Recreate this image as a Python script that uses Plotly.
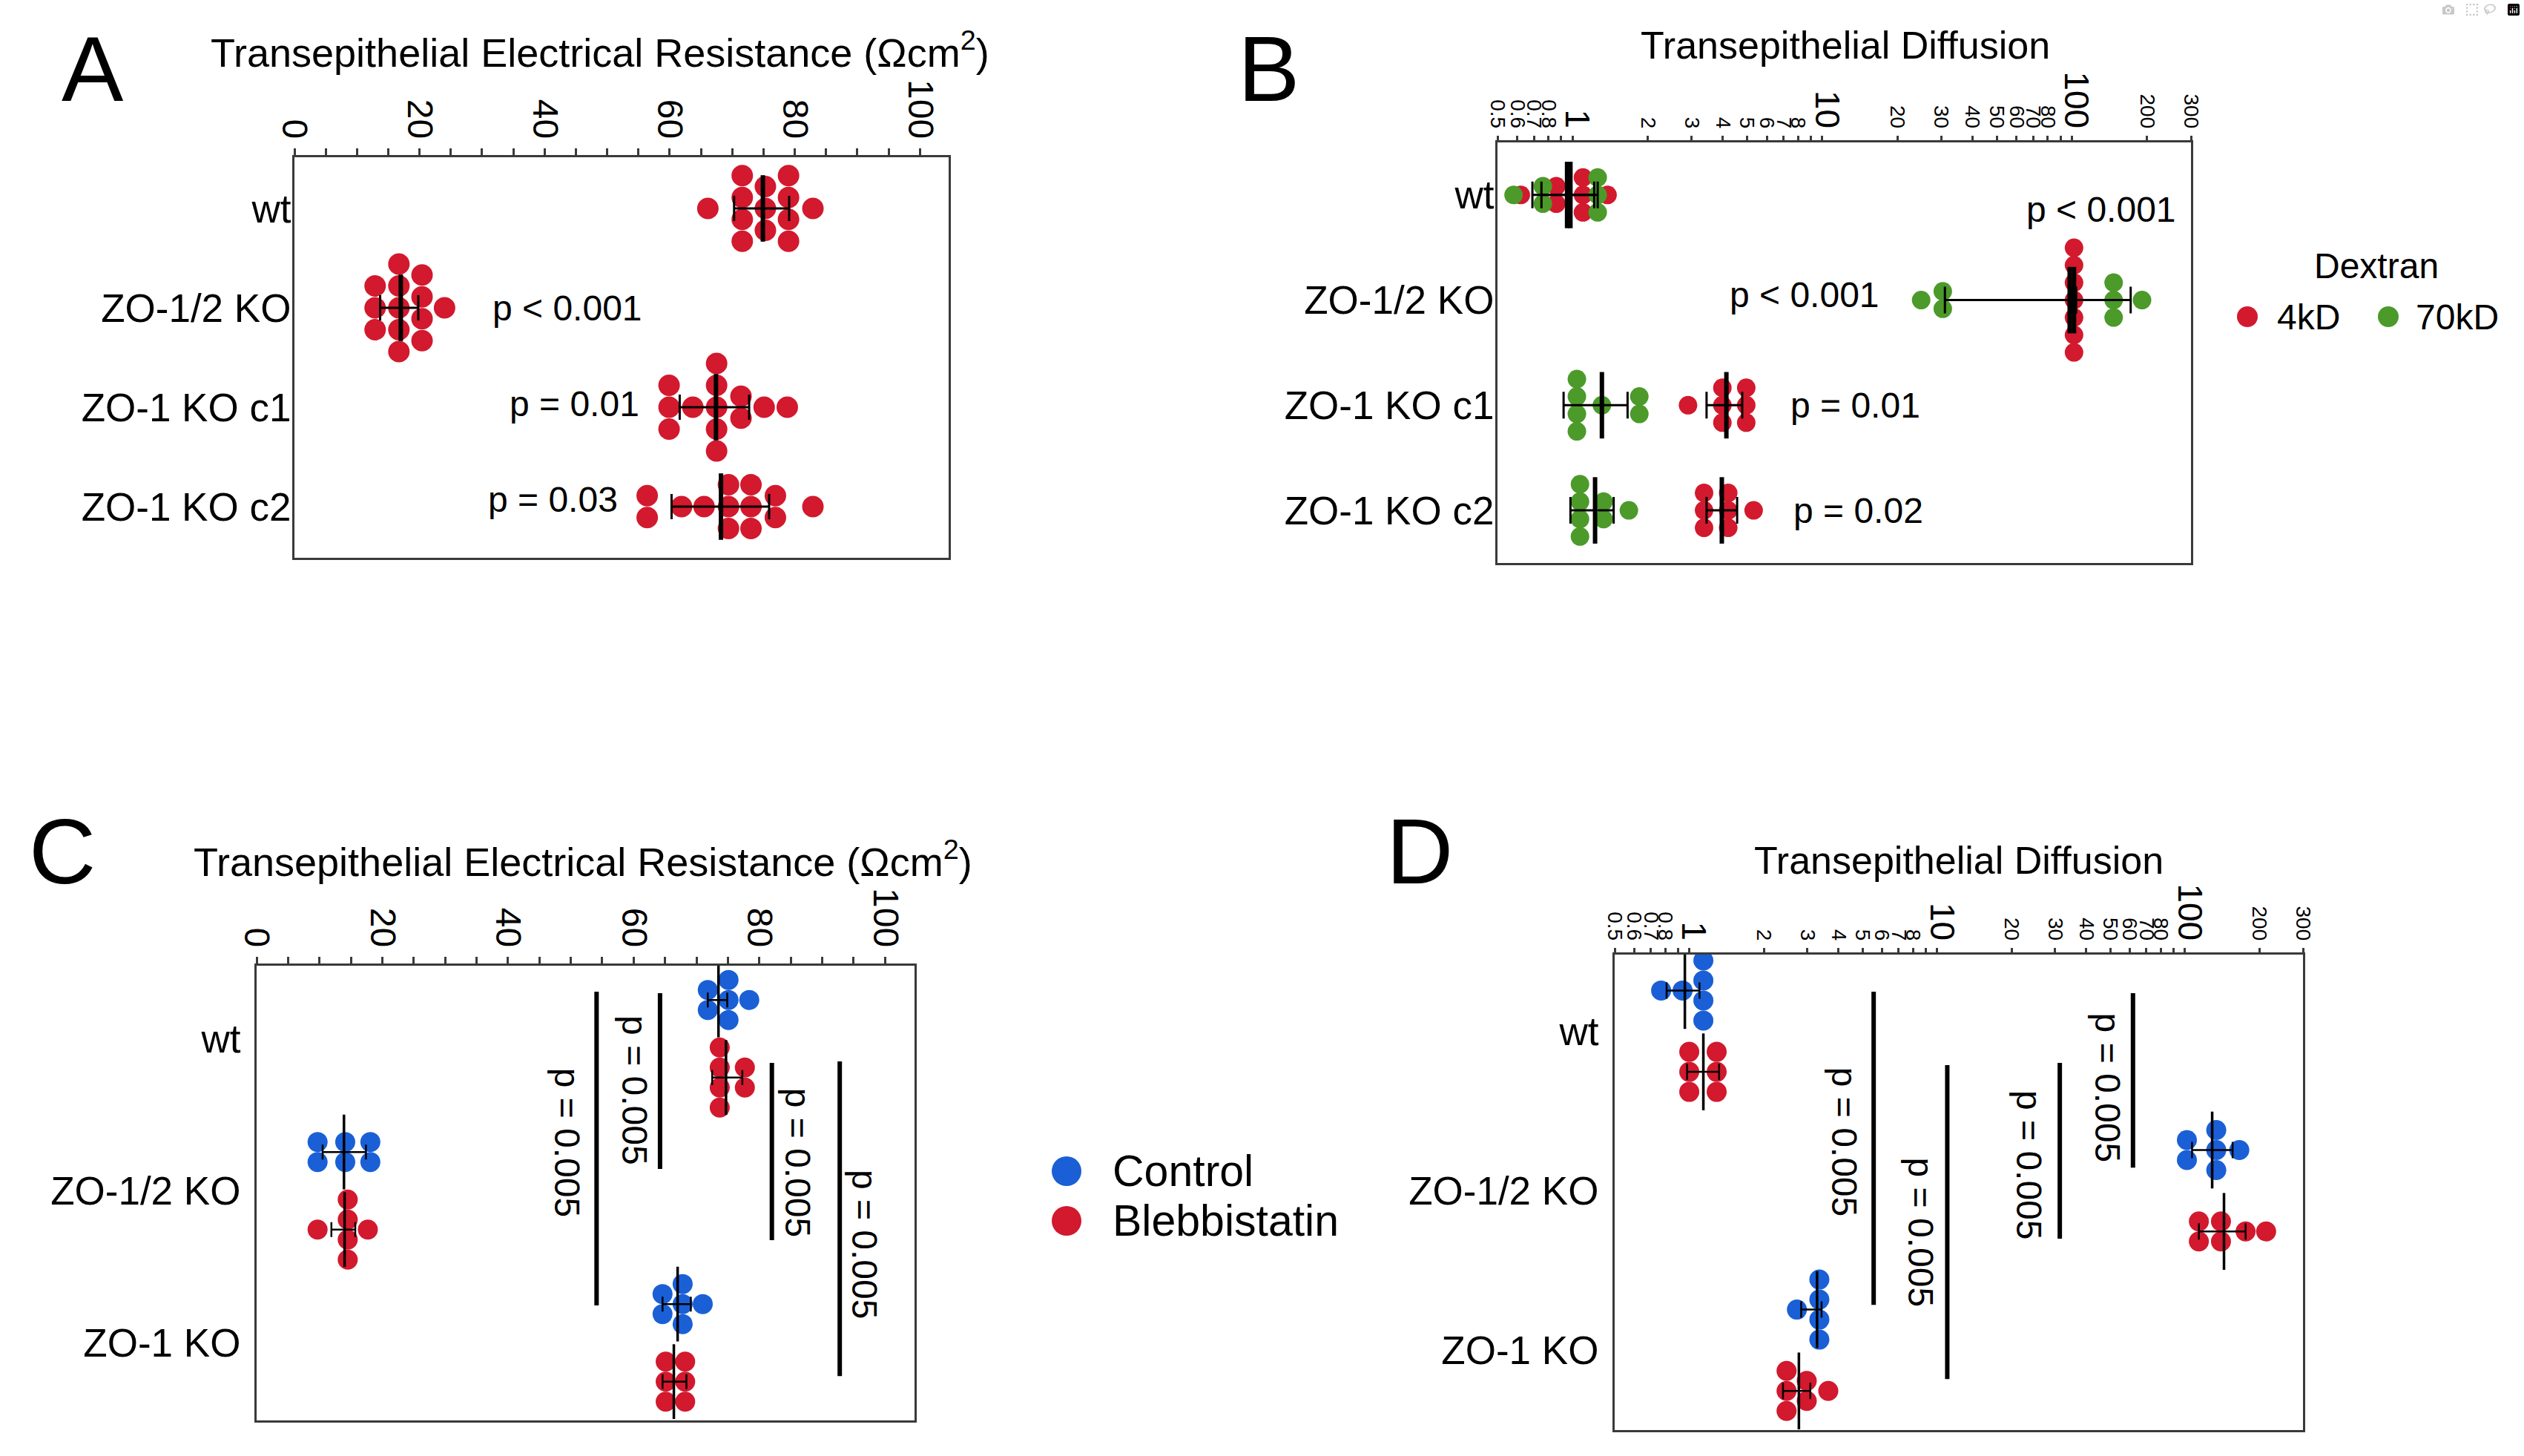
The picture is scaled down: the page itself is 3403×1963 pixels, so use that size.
import numpy as np
import plotly.graph_objects as go

W, H = 3403, 1963
FONT = "Liberation Sans, Arial, Helvetica, sans-serif"
RED, GREEN, BLUE = "#D2192D", "#4C9A2A", "#1A5FD6"

# ---------------- data ----------------
# Panel A: TER (Ohm cm2)
a_groups = ["wt", "ZO-1/2 KO", "ZO-1 KO c1", "ZO-1 KO c2"]
a_wt = [66.1, 71.6, 71.6, 71.6, 71.6, 75.3, 75.3, 75.3, 79.0, 79.0, 79.0, 79.0, 82.9]
a_zo12 = [12.9, 12.9, 12.9, 16.7, 16.7, 16.7, 16.7, 16.7, 20.4, 20.4, 20.4, 20.4, 24.0]
a_c1 = [59.9, 59.9, 59.9, 63.7, 67.5, 67.5, 67.5, 67.5, 67.5, 71.4, 71.4, 75.1, 78.8]
a_c2 = [56.4, 56.4, 61.9, 65.5, 69.4, 69.4, 69.4, 73.0, 73.0, 73.0, 76.9, 76.9, 82.9]
a_mean = [74.9, 17.0, 67.4, 68.2]
a_lo = [70.3, 13.7, 61.6, 60.3]
a_hi = [79.1, 19.8, 72.7, 75.9]
a_p_text = ["p < 0.001", "p = 0.01", "p = 0.03"]
a_p_group = [1, 2, 3]
a_p_x = [55.9, 55.4, 51.9]
a_p_dy = [0.0, -0.03, -0.07]

# Panel B: transepithelial diffusion (log)
b_groups = ["wt", "ZO-1/2 KO", "ZO-1 KO c1", "ZO-1 KO c2"]
b_4kd = [
    [0.62, 0.86, 0.86, 1.10, 1.10, 1.10, 1.38],
    [102, 102, 102, 102, 102, 102, 102],
    [2.90, 3.98, 3.98, 3.98, 4.96, 4.96, 4.96],
    [3.36, 3.36, 3.36, 4.20, 4.20, 4.20, 5.31],
]
b_70kd = [
    [0.58, 0.76, 0.76, 1.26, 1.26, 1.26],
    [24.9, 30.4, 30.4, 147, 147, 147, 191],
    [1.04, 1.04, 1.04, 1.04, 1.31, 1.85, 1.85],
    [1.07, 1.07, 1.07, 1.07, 1.33, 1.33, 1.68],
]
b_4kd_mean = [0.98, 102, 4.13, 3.96]
b_4kd_lo = [0.75, 100, 3.44, 3.44]
b_4kd_hi = [1.22, 104, 4.78, 4.56]
b_70kd_mean = [0.95, 98, 1.31, 1.23]
b_70kd_lo = [0.69, 31.0, 0.92, 0.98]
b_70kd_hi = [1.26, 172, 1.66, 1.46]
b_p_text = ["p < 0.001", "p < 0.001", "p = 0.01", "p = 0.02"]
b_p_x = [265, 17.2, 7.38, 7.55]
b_p_y = [0.135, 0.953, 2.0, 3.0]
b_p_anchor = ["right", "right", "left", "left"]

# Panel C: TER control vs blebbistatin
c_groups = ["wt", "ZO-1/2 KO", "ZO-1 KO"]
c_control = [
    [71.8, 71.8, 75.1, 75.1, 75.1, 78.4],
    [9.7, 9.7, 14.1, 14.1, 18.1, 18.1],
    [64.6, 64.6, 67.8, 67.8, 67.8, 71.0],
]
c_blebb = [
    [73.7, 73.7, 73.7, 73.7, 77.7, 77.7],
    [9.7, 14.5, 14.5, 14.5, 14.5, 17.7],
    [65.1, 65.1, 65.1, 68.2, 68.2, 68.2],
]
c_control_mean = [73.5, 13.9, 67.0]
c_control_lo = [71.8, 10.5, 64.6]
c_control_hi = [74.9, 17.4, 69.1]
c_blebb_mean = [74.7, 14.0, 66.4]
c_blebb_lo = [72.5, 11.9, 64.6]
c_blebb_hi = [77.3, 15.7, 68.4]
c_br_x = [54.1, 64.2, 82.0, 92.8]
c_br_y0 = [-0.309, -0.300, 0.159, 0.149]
c_br_y1 = [1.754, 0.857, 1.325, 2.218]
c_br_text = ["p = 0.005", "p = 0.005", "p = 0.005", "p = 0.005"]
c_br_tx = [49.5, 60.2, 86.1, 96.8]
c_br_ty = [0.686, 0.340, 0.818, 1.354]

# Panel D: diffusion control vs blebbistatin (log)
d_groups = ["wt", "ZO-1/2 KO", "ZO-1 KO"]
d_control = [
    [0.77, 0.94, 1.14, 1.14, 1.14, 1.14],
    [102, 102, 134, 134, 134, 166],
    [2.72, 3.35, 3.35, 3.35, 3.35],
]
d_blebb = [
    [1.00, 1.00, 1.00, 1.29, 1.29, 1.29],
    [114, 114, 140, 140, 176, 213],
    [2.47, 2.47, 2.47, 2.98, 2.98, 3.64],
]
d_control_mean = [0.96, 129, 3.28]
d_control_lo = [0.81, 107, 2.83]
d_control_hi = [1.10, 156, 3.42]
d_blebb_mean = [1.14, 144, 2.77]
d_blebb_lo = [0.98, 114, 2.39]
d_blebb_hi = [1.32, 176, 3.08]
d_br_x = [5.55, 11.0, 31.3, 61.8]
d_br_y0 = [-0.247, 0.213, 0.199, -0.238]
d_br_y1 = [1.715, 2.18, 1.301, 0.855]
d_br_text = ["p = 0.005", "p = 0.005", "p = 0.005", "p = 0.005"]
d_br_tx = [4.22, 8.6, 23.6, 49.1]
d_br_ty = [0.697, 1.26, 0.841, 0.357]

log_labeled = [0.5, 0.6, 0.7, 0.8, 1, 2, 3, 4, 5, 6, 7, 8,
               10, 20, 30, 40, 50, 60, 70, 80, 100, 200, 300]
log_major = [1, 10, 100]
log_unlabeled = [0.9, 9, 90]
linear_ticks = [0, 20, 40, 60, 80, 100]

# ---------------- layout geometry (pixels) ----------------
PANELS = {
    "A": dict(x=(397, 1279), y=(212, 752), xr=[0, 104.6], yr=[3.515, -0.515], log=False),
    "B": dict(x=(2019, 2954), y=(192, 759), xr=[np.log10(0.5), np.log10(300)], yr=[3.5, -0.5], log=True),
    "C": dict(x=(346, 1233), y=(1302, 1915), xr=[0, 104.7], yr=[2.51, -0.48], log=False),
    "D": dict(x=(2177, 3105), y=(1287, 1928), xr=[np.log10(0.5), np.log10(300)], yr=[2.50, -0.48], log=True),
}
AX = {"A": ("x", "y"), "B": ("x2", "y2"), "C": ("x3", "y3"), "D": ("x4", "y4")}
LABEL_STANDOFF = {"A": -9, "B": -9, "C": 8, "D": 8}


def px_per_x(p):
    g = PANELS[p]
    return (g["x"][1] - g["x"][0]) / (g["xr"][1] - g["xr"][0])


def px_per_y(p):
    g = PANELS[p]
    return (g["y"][1] - g["y"][0]) / abs(g["yr"][1] - g["yr"][0])


def swarm(values, p, spacing):
    """Stack values that would collide into centred columns (Prism-like)."""
    g = PANELS[p]
    f = (lambda v: np.log10(v)) if g["log"] else (lambda v: v)
    sx = px_per_x(p)
    groups = []
    for v in sorted(values):
        if groups and abs(f(v) - f(groups[-1][0])) * sx < 0.35 * spacing:
            groups[-1].append(v)
        else:
            groups.append([v])
    xs, offs = [], []
    for grp in groups:
        n = len(grp)
        for k, v in enumerate(grp):
            xs.append(v)
            offs.append((k - (n - 1) / 2) * spacing)
    return xs, offs


fig = go.Figure()


def add_dots(p, values_list, cats, shift, color, diam, spacing, name):
    xa, ya = AX[p]
    spy = px_per_y(p)
    X, Y = [], []
    for vals, c in zip(values_list, cats):
        xs, offs = swarm(vals, p, spacing)
        X += xs
        Y += [c + shift + o / spy for o in offs]
    fig.add_trace(go.Scatter(x=X, y=Y, mode="markers", xaxis=xa, yaxis=ya, name=name,
                             showlegend=False, hoverinfo="skip",
                             marker=dict(size=diam, color=color, line=dict(width=0))))


def add_mean(p, means, lo, hi, cats, shift, L, lw, ew, cap):
    xa, ya = AX[p]
    fig.add_trace(go.Scatter(
        x=means, y=[c + shift for c in cats], mode="markers", xaxis=xa, yaxis=ya,
        showlegend=False, hoverinfo="skip",
        marker=dict(symbol="line-ns", size=L, color="black", line=dict(width=lw, color="black")),
        error_x=dict(type="data", symmetric=False,
                     array=[h - m for h, m in zip(hi, means)],
                     arrayminus=[m - l for m, l in zip(means, lo)],
                     thickness=ew, width=cap, color="black")))


# Panel A
catsA = list(range(len(a_groups)))
add_dots("A", [a_wt, a_zo12, a_c1, a_c2], catsA, 0, RED, 29, 29.5, "TER")
add_mean("A", a_mean, a_lo, a_hi, catsA, 0, 64, 6, 3, 17)

# Panel B
catsB = list(range(len(b_groups)))
add_dots("B", b_4kd, catsB, 0, RED, 25, 23.5, "4kD")
add_dots("B", b_70kd, catsB, 0, GREEN, 25, 23.5, "70kD")
add_mean("B", b_4kd_mean, b_4kd_lo, b_4kd_hi, catsB, 0, 64, 6, 3, 18)
add_mean("B", b_70kd_mean, b_70kd_lo, b_70kd_hi, catsB, 0, 64, 6, 3, 18)

# Panel C
catsC = list(range(len(c_groups)))
SUB = 0.255
add_dots("C", c_control, catsC, -SUB, BLUE, 27, 27, "Control")
add_dots("C", c_blebb, catsC, SUB, RED, 27, 27, "Blebbistatin")
add_mean("C", c_control_mean, c_control_lo, c_control_hi, catsC, -SUB, 72, 3.5, 2.5, 10)
add_mean("C", c_blebb_mean, c_blebb_lo, c_blebb_hi, catsC, SUB, 72, 3.5, 2.5, 10)

# Panel D
catsD = list(range(len(d_groups)))
add_dots("D", d_control, catsD, -SUB, BLUE, 27, 27, "Control")
add_dots("D", d_blebb, catsD, SUB, RED, 27, 27, "Blebbistatin")
add_mean("D", d_control_mean, d_control_lo, d_control_hi, catsD, -SUB, 74, 3.5, 2.5, 11)
add_mean("D", d_blebb_mean, d_blebb_lo, d_blebb_hi, catsD, SUB, 74, 3.5, 2.5, 11)

annotations = []
TXT = dict(family=FONT, color="black")


def add_brackets(p, bx, by0, by1, texts, tx, ty):
    xa, ya = AX[p]
    for x, y0, y1 in zip(bx, by0, by1):
        fig.add_trace(go.Scatter(x=[x, x], y=[y0, y1], mode="lines", xaxis=xa, yaxis=ya,
                                 showlegend=False, hoverinfo="skip",
                                 line=dict(color="black", width=6)))
    for t, x, y in zip(texts, tx, ty):
        annotations.append(dict(text=t, x=np.log10(x) if PANELS[p]["log"] else x, y=y,
                                xref=xa, yref=ya, showarrow=False, textangle=90,
                                xanchor="center", yanchor="middle",
                                font=dict(size=48, **TXT)))


add_brackets("C", c_br_x, c_br_y0, c_br_y1, c_br_text, c_br_tx, c_br_ty)
add_brackets("D", d_br_x, d_br_y0, d_br_y1, d_br_text, d_br_tx, d_br_ty)

# p-value labels A and B
for t, g, x, dy in zip(a_p_text, a_p_group, a_p_x, a_p_dy):
    annotations.append(dict(text=t, x=x, y=g + dy, xref="x", yref="y", showarrow=False,
                            xanchor="right", yanchor="middle", font=dict(size=48, **TXT)))
for t, x, y, anc in zip(b_p_text, b_p_x, b_p_y, b_p_anchor):
    annotations.append(dict(text=t, x=np.log10(x), y=y, xref="x2", yref="y2", showarrow=False,
                            xanchor=anc, yanchor="middle", font=dict(size=48, **TXT)))


def paper(xpx, ypx):
    return xpx / W, 1 - ypx / H


def add_text(t, xpx, ypx, size, xanchor="center"):
    x, y = paper(xpx, ypx)
    annotations.append(dict(text=t, x=x, y=y, xref="paper", yref="paper", showarrow=False,
                            xanchor=xanchor, yanchor="middle", font=dict(size=size, **TXT)))


# titles and panel letters
add_text("Transepithelial Electrical Resistance (\u03a9cm<sup>2</sup>)", 809, 67, 54)
add_text("Transepithelial Diffusion", 2488, 61, 52)
add_text("Transepithelial Electrical Resistance (\u03a9cm<sup>2</sup>)", 786, 1158, 54)
add_text("Transepithelial Diffusion", 2641, 1160, 52)
add_text("A", 125, 92, 125)
add_text("B", 1710, 92, 125)
add_text("C", 84, 1147, 125)
add_text("D", 1914, 1147, 125)

# legends (manual)
shapes = []


def add_dot(cx, cy, d, color):
    r = d / 2
    shapes.append(dict(type="circle", xref="paper", yref="paper",
                       x0=(cx - r) / W, x1=(cx + r) / W,
                       y0=1 - (cy + r) / H, y1=1 - (cy - r) / H,
                       fillcolor=color, line=dict(width=0)))


add_text("Dextran", 3204, 358, 48)
add_dot(3030, 427, 28, RED)
add_text("4kD", 3068, 427, 48, "left")
add_dot(3220, 427, 28, GREEN)
add_text("70kD", 3255, 427, 48, "left")

add_dot(1438, 1579, 40, BLUE)
add_text("Control", 1498, 1579, 59, "left")
add_dot(1438, 1646, 40, RED)
add_text("Blebbistatin", 1498, 1646, 59, "left")

# ---------------- axes ----------------
LINE = "#3a3a3a"


def log_ticktext():
    out = []
    for v in log_labeled:
        if v in log_major:
            out.append("<span style='font-size:46px'>%g</span>" % v)
        else:
            out.append("%g" % v)
    return out


layout_axes = {}
for p, (xa, ya) in AX.items():
    g = PANELS[p]
    xkey = "xaxis" + xa[1:]
    ykey = "yaxis" + ya[1:]
    xd = [g["x"][0] / W, g["x"][1] / W]
    yd = [1 - g["y"][1] / H, 1 - g["y"][0] / H]
    common_x = dict(domain=xd, range=g["xr"], anchor=ya, side="top", showline=True,
                    linecolor=LINE, linewidth=3, mirror=True, showgrid=False, zeroline=False,
                    ticks="outside", tickcolor=LINE, tickwidth=2.5, tickangle=90,
                    fixedrange=True, automargin=False)
    if g["log"]:
        common_x.update(type="log", tickmode="array", tickvals=log_labeled,
                        ticktext=log_ticktext(), ticklen=6,
                        tickfont=dict(size=28, **TXT), ticklabelstandoff=0,
                        minor=dict(tickmode="array", tickvals=log_unlabeled, ticks="outside",
                                   ticklen=6, tickwidth=2.5, tickcolor=LINE))
    else:
        common_x.update(type="linear", tickmode="array", tickvals=linear_ticks, ticklen=9,
                        tickfont=dict(size=48, **TXT), ticklabelstandoff=-4,
                        minor=dict(dtick=5, tick0=0, ticks="outside", ticklen=9,
                                   tickwidth=2.5, tickcolor=LINE))
    layout_axes[xkey] = common_x
    cats = {"A": a_groups, "B": b_groups, "C": c_groups, "D": d_groups}[p]
    layout_axes[ykey] = dict(domain=yd, range=g["yr"], anchor=xa, showline=True,
                             linecolor=LINE, linewidth=3, mirror=True, showgrid=False,
                             zeroline=False, ticks="", tickvals=list(range(len(cats))),
                             ticktext=cats, tickfont=dict(size=53, **TXT),
                             ticklabelstandoff=LABEL_STANDOFF[p], fixedrange=True,
                             automargin=False)

fig.update_layout(width=W, height=H, autosize=False, margin=dict(l=0, r=0, t=0, b=0, pad=0),
                  paper_bgcolor="white", plot_bgcolor="white", showlegend=False,
                  font=dict(family=FONT, color="black"),
                  annotations=annotations, shapes=shapes, **layout_axes)

fig.write_html("out.html", post_script="document.body.style.margin='0';")
